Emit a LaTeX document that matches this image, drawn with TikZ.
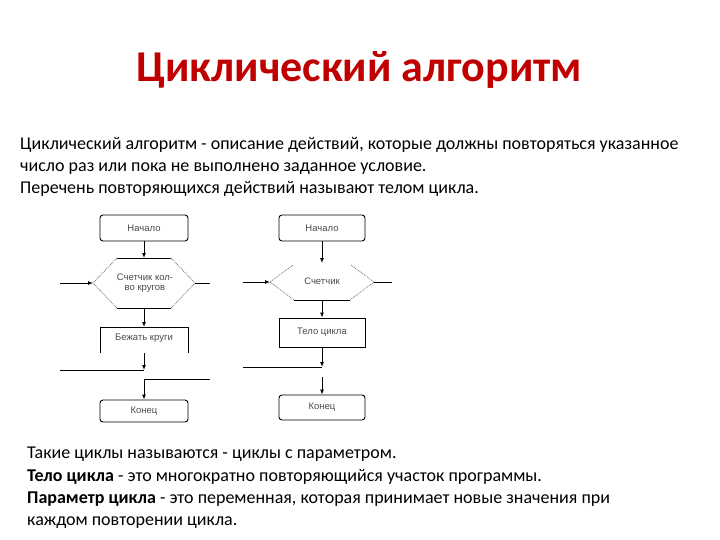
\documentclass[tikz,border=0pt]{standalone}
\usepackage{fontspec}
\setmainfont{Carlito}
\newfontfamily\boxfont{Liberation Sans}
\usetikzlibrary{arrows.meta}
\definecolor{titlered}{RGB}{192,0,0}
\begin{document}
\begin{tikzpicture}[x=1pt,y=-1pt,
  box/.style={draw, line width=0.9pt, minimum width=88pt, minimum height=25pt, inner sep=0pt,
    font=\boxfont\fontsize{9.5}{10.5}\selectfont, text=black!70},
  rbox/.style={box, rounded corners=3pt},
  lbl/.style={inner sep=0pt, font=\boxfont\fontsize{9.5}{10.5}\selectfont, text=black!70, align=center},
  conn/.style={line width=0.9pt, -{Latex[length=5pt,width=4pt]}},
  plain/.style={line width=0.9pt},
  side/.style={line width=0.8pt, densely dotted, black!55},
  body/.style={anchor=base west, inner sep=0pt, font=\fontsize{18}{22}\selectfont}
]
\useasboundingbox (0,0) rectangle (720,540);
\fill[white] (0,0) rectangle (720,540);

% title
\node[anchor=base, inner sep=0pt, font=\fontsize{44}{50}\selectfont\bfseries, text=titlered] (title) at (359,82) {Циклический алгоритм};

% top text
\node[body] (t1) at (20,150) {Циклический алгоритм - описание действий, которые должны повторяться указанное};
\node[body] (t2) at (20,172) {число раз или пока не выполнено заданное условие.};
\node[body] (t3) at (20,194) {Перечень повторяющихся действий называют телом цикла.};

% bottom text
\node[body] (b1) at (27,458) {Такие циклы называются - циклы с параметром.};
\node[body] (b2) at (27,481) {\textbf{Тело цикла} - это многократно повторяющийся участок программы.};
\node[body] (b3) at (27,503) {\textbf{Параметр цикла} - это переменная, которая принимает новые значения при};
\node[body] (b4) at (27,525) {каждом повторении цикла.};

% ---------- left flowchart ----------
\node[rbox, minimum height=26pt] (ls) at (144,228) {Начало};
\coordinate (lhT) at (144,258);
\coordinate (lhB) at (144,308);
\coordinate (lhL) at (93,283);
\coordinate (lhR) at (195,283);
\draw[plain] (117,258) -- (171,258);
\draw[plain] (117,308) -- (171,308);
\draw[side] (117,258) -- (lhL) -- (117,308);
\draw[side] (171,258) -- (lhR) -- (171,308);
\node[lbl] (lh) at (145,283) {Счетчик кол-\\во кругов};
\coordinate (lin) at (60,283);
\coordinate (lout) at (210,283);
\draw[conn] (ls.south) -- (lhT);
\draw[conn] (lin) -- (lhL);
\draw[plain] (lhR) -- (lout);

\coordinate (lbT) at (144,327);
\coordinate (lbB) at (144,353);
\draw[plain] (100,353) -- (100,327) -- (188,327) -- (188,353);
\node[lbl] (lb) at (144,338) {Бежать круги};
\draw[conn] (lhB) -- (lbT);
\coordinate (lj1) at (144,370);
\coordinate (lleft) at (60,370);
\draw[conn] (lbB) -- (lj1);
\draw[plain] (lleft) -- (lj1);
\node[rbox, minimum height=22pt] (le) at (144,411) {Конец};
\coordinate (lj2) at (144,379);
\coordinate (lright) at (210,379);
\draw[plain] (lright) -- (lj2);
\draw[conn] (lj2) -- (le.north);

% ---------- right flowchart ----------
\node[rbox, minimum width=86pt, minimum height=26pt] (rs) at (322,228) {Начало};
\coordinate (rhT) at (322,263);
\coordinate (rhB) at (322,300);
\coordinate (rhL) at (270,282);
\coordinate (rhR) at (374,282);
\draw[side] (293,265) -- (rhL) -- (294,300);
\draw[side] (351,265) -- (rhR) -- (350,300);
\draw[plain] (294,300) -- (350,300);
\node[lbl] (rh) at (322,281) {Счетчик};
\coordinate (rin) at (243,282);
\coordinate (rout) at (392,282);
\draw[conn] (rs.south) -- (rhT);
\draw[conn] (rin) -- (rhL);
\draw[plain] (rhR) -- (rout);

\node[box, minimum width=86pt, minimum height=29pt] (rb) at (322,332.5) {Тело цикла};
\draw[conn] (rhB) -- (rb.north);
\coordinate (rj) at (322,367);
\coordinate (rleft) at (243,367);
\draw[conn] (rb.south) -- (rj);
\draw[plain] (rleft) -- (rj);
\node[rbox, minimum width=86pt, minimum height=25pt] (re) at (322,407.5) {Конец};
\coordinate (rtop) at (322,377);
\draw[conn] (rtop) -- (re.north);
\end{tikzpicture}
\end{document}
